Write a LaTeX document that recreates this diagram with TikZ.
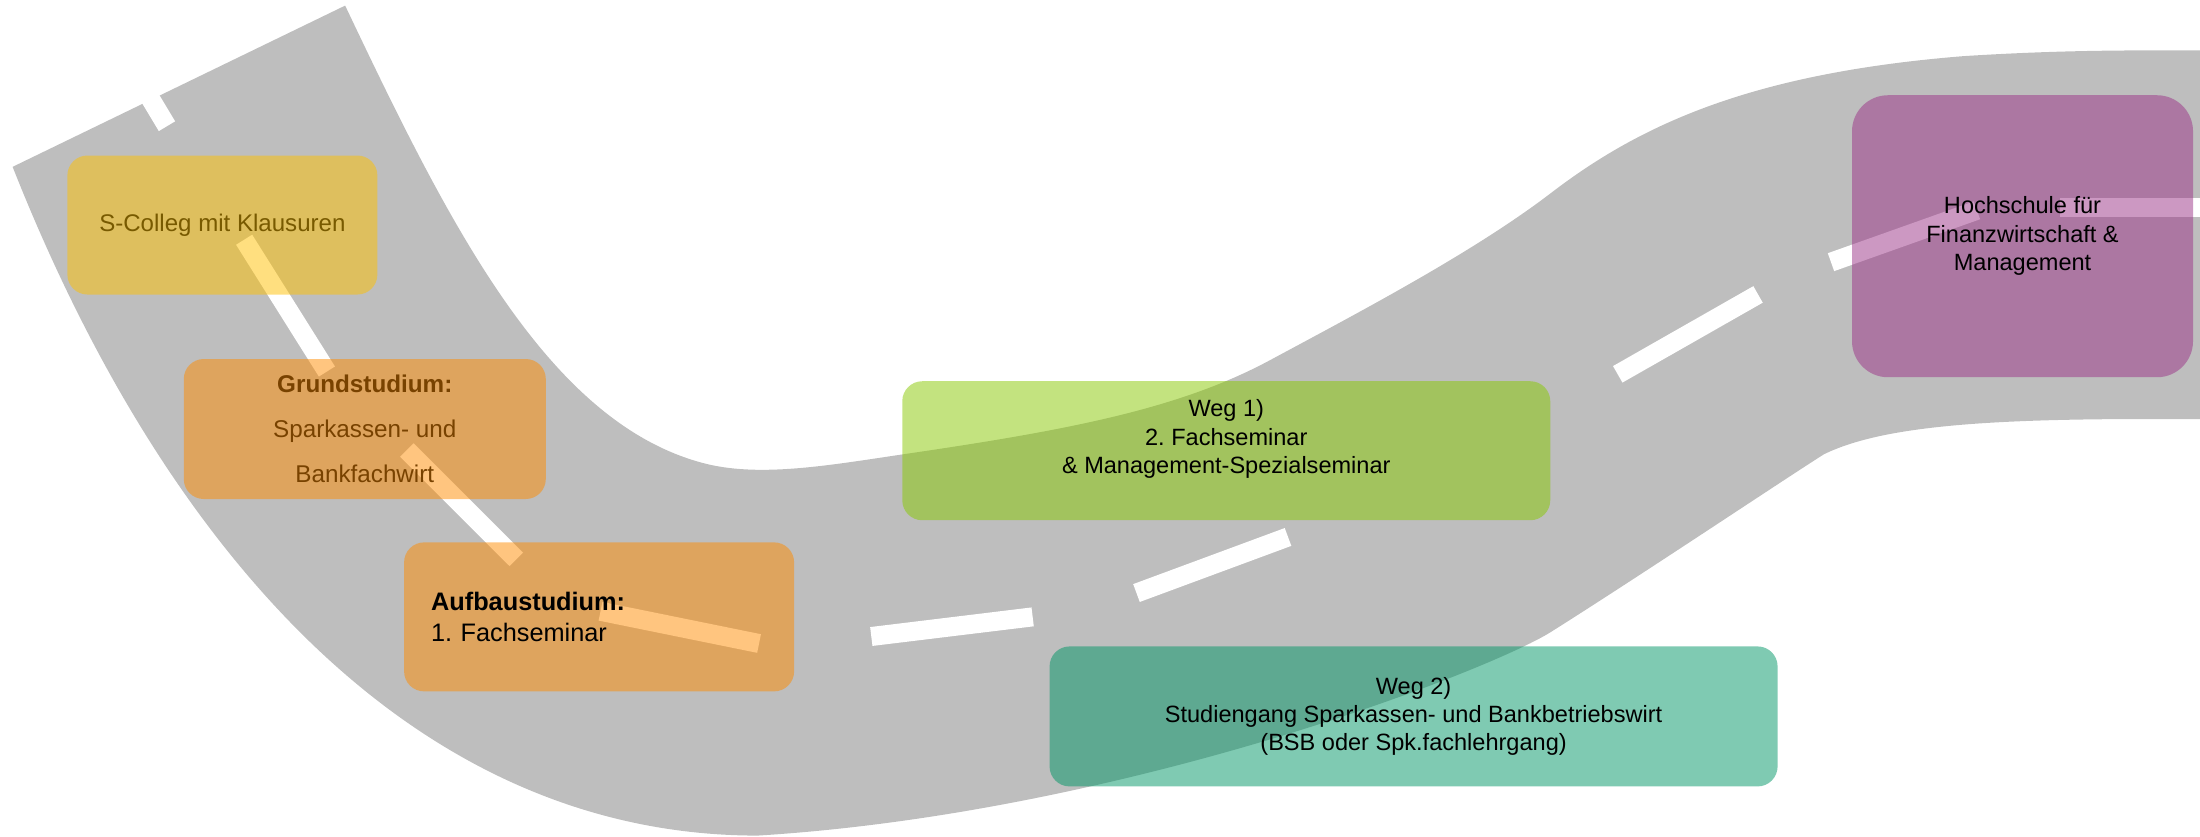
\documentclass[tikz,border=0pt]{standalone}
\usepackage{fontspec}
\setmainfont{Liberation Sans}
\usepackage{tikz}
\usetikzlibrary{positioning}
\definecolor{roadgray}{RGB}{190,190,190}
\definecolor{scgold}{RGB}{255,192,0}
\definecolor{studorange}{RGB}{255,140,0}
\definecolor{wegone}{RGB}{135,200,0}
\definecolor{wegtwo}{RGB}{0,149,101}
\definecolor{hfmpurple}{RGB}{155,50,135}
\frenchspacing

\begin{document}
\begin{tikzpicture}[x=0.1403mm,y=-0.1402mm,
  roadmark/.style={white, line width=1.9mm},
  stage/.style={rounded corners=2mm, fill opacity=0.5, text opacity=1, align=center, inner sep=0pt, font=\fontsize{6.7}{8.1}\selectfont}]

\useasboundingbox (0,0) rectangle (1568,597);
\clip (0,0) rectangle (1568,597);

%road
\fill[roadgray] (9,119) -- (246,4)
  .. controls (320,160) and (390,300) .. (500,330)
  .. controls (540,341) and (590,332) .. (644,324)
  .. controls (760,307) and (840,292) .. (905,257)
  .. controls (970,222) and (1050,180) .. (1105,138)
  .. controls (1170,88) and (1250,52) .. (1400,40)
  .. controls (1480,35) and (1530,36) .. (1600,36)
  -- (1600,299) -- (1570,299)
  .. controls (1430,298) and (1345,302) .. (1300,324)
  .. controls (1270,343) and (1170,410) .. (1105,451)
  .. controls (1060,479) and (800,580) .. (540,596)
  .. controls (300,596) and (120,400) .. (9,119)
  -- cycle;

%road marks
\foreach \xa/\ya/\xb/\yb in {95/50/119/90, 174/171/233/265, 290/321/368/399, 428/436/541/459, 621/454/736/440, 810/423/918/383, 1153/267/1253/210, 1305/187/1409/150, 1468/148/1580/148}
  \draw[roadmark] (\xa,\ya) -- (\xb,\yb);

%stages
\node[stage, fill=scgold, text=scgold!47!black, minimum width=31.0mm, minimum height=13.9mm, font=\fontsize{6.85}{8.2}\selectfont] (scolleg) at (158.5,160.5) {S-Colleg mit Klausuren};

\node[stage, fill=studorange, text=studorange!47!black, minimum width=36.2mm, minimum height=14.0mm, font=\fontsize{6.9}{12.8}\selectfont] (grund) at (260,306) {\textbf{Grundstudium:}\\Sparkassen- und\\Bankfachwirt};

\node[stage, fill=studorange, minimum width=39.0mm, minimum height=14.9mm, align=left, text width=33.6mm, font=\fontsize{7.2}{8.8}\selectfont] (aufbau) at (427,440) {\textbf{Aufbaustudium:}\\1. Fachseminar};

\node[stage, fill=wegone, minimum width=64.8mm, minimum height=13.9mm] (weg1) at (874,321.5) {Weg 1)\\2. Fachseminar\\\& Management-Spezialseminar\\\mbox{}};

\node[stage, fill=wegtwo, minimum width=72.8mm, minimum height=14.0mm] (weg2) at (1007.5,511) {Weg 2)\\Studiengang Sparkassen- und Bankbetriebswirt\\(BSB oder Spk.fachlehrgang)};

\node[stage, fill=hfmpurple, rounded corners=3.6mm, minimum width=34.1mm, minimum height=28.2mm] (hfm) at (1441.5,168.5) {Hochschule für\\Finanzwirtschaft \&\\Management};

\end{tikzpicture}
\end{document}
